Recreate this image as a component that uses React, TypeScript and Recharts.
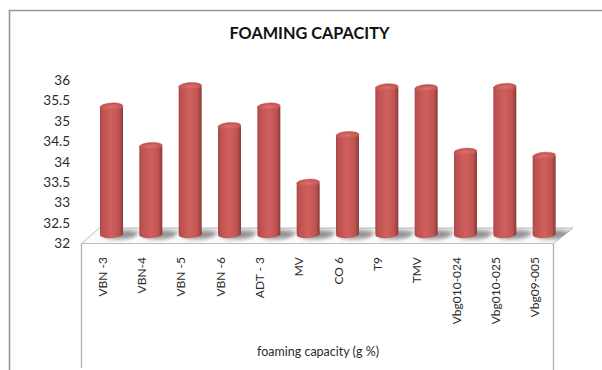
import { Bar, BarChart, Label, XAxis, YAxis } from "recharts";

const categories = ["VBN -3", "VBN-4", "VBN -5", "VBN -6", "ADT - 3", "MV", "CO 6", "T9", "TMV", "Vbg010-024", "Vbg010-025", "Vbg09-005"];
const capacity = [35.14, 34.17, 35.64, 34.66, 35.14, 33.27, 34.44, 35.61, 35.59, 34.03, 35.62, 33.93];
const yTicks = [32, 32.5, 33, 33.5, 34, 34.5, 35, 35.5, 36];

const rows = categories.map((name, i) => ({ name, capacity: capacity[i] }));
const font = "Lato, 'Open Sans', sans-serif";

// Cylinder column: shadow on the floor, body, base and lit cap
function Cylinder({ x, y, width, height }: any) {
  const cx = x + width / 2;
  const bottom = y + height;
  const rx = width / 2;
  return (
    <g>
      <g clipPath="url(#floorClip)">
        <ellipse cx={cx + 10} cy={bottom} rx={rx + 5} ry={4.5} fill="#7d7d7d" opacity={0.85} filter="url(#floorBlur)" transform={`skewX(-30) translate(${bottom * 0.577} 0)`} />
      </g>
      <ellipse cx={cx} cy={bottom} rx={rx} ry={3.6} fill="url(#cylBody)" transform={`rotate(-4 ${cx} ${bottom})`} />
      <rect x={x} y={y} width={width} height={height} fill="url(#cylBody)" />
      <ellipse cx={cx} cy={y} rx={rx} ry={3.6} fill="url(#cylCap)" stroke="#c9605c" strokeWidth={0.5} transform={`rotate(-4 ${cx} ${y})`} />
    </g>
  );
}

function CategoryTick({ x, payload }: any) {
  const lx = x - 9.5;
  const ly = 257;
  return (
    <text x={lx} y={ly} transform={`rotate(-90 ${lx} ${ly})`} textAnchor="end" dominantBaseline="central" fontSize={12} fontFamily={font} fill="#2b2b2b">
      {payload.value}
    </text>
  );
}

function ValueTick({ x, y, payload }: any) {
  return (
    <text x={x} y={y + 8.5} textAnchor="end" dominantBaseline="central" fontSize={13.5} fontFamily={font} fill="#2b2b2b">
      {payload.value}
    </text>
  );
}

export default function App() {
  return (
    <div style={{ position: "absolute", left: 0, top: 0, width: 602, height: 370, background: "#fff" }}>
      <BarChart
        width={602}
        height={370}
        data={rows}
        margin={{ top: 71.5, right: 38, bottom: 0, left: 0 }}
        barSize={23}
      >
        <defs>
          <linearGradient id="cylBody" x1="0" x2="1" y1="0" y2="0">
            <stop offset="0" stopColor="#a9474a" />
            <stop offset="0.12" stopColor="#bd5250" />
            <stop offset="0.5" stopColor="#d0605d" />
            <stop offset="0.82" stopColor="#bf5350" />
            <stop offset="1" stopColor="#8a3a38" />
          </linearGradient>
          <radialGradient id="cylCap" cx="0.5" cy="0.55" r="0.55">
            <stop offset="0" stopColor="#e0706c" />
            <stop offset="0.7" stopColor="#c95a57" />
            <stop offset="1" stopColor="#b34d4a" />
          </radialGradient>
          <filter id="floorBlur" x="-30%" y="-60%" width="160%" height="220%">
            <feGaussianBlur stdDeviation="2.2" />
          </filter>
          <clipPath id="floorClip">
            <polygon points="81.5,243.5 553.5,243.5 573,228 99.5,228" />
          </clipPath>
        </defs>

        {/* outer frame, cut off at the top right */}
        <path d="M9.5 370V10.5H602" fill="none" stroke="#969696" strokeWidth={1.6} />
        {/* category table below the floor */}
        <path d="M81.5 368V243.5M553.5 372V243.5" fill="none" stroke="#b4b4b4" strokeWidth={1.4} />
        {/* floor */}
        <polygon points="81.5,243.5 553.5,243.5 573,228 99.5,228" fill="#fbfbfb" stroke="#bcbcbc" strokeWidth={1} />

        <text x={309.5} y={38.5} textAnchor="middle" fontSize={16.3} fontWeight={700} fontFamily={font} fill="#111">
          FOAMING CAPACITY
        </text>

        <XAxis dataKey="name" height={135.5} axisLine={false} tickLine={false} interval={0} tick={<CategoryTick />}>
          <Label content={() => (
            <text x={318} y={356} textAnchor="middle" fontSize={12.5} fontFamily={font} fill="#2b2b2b">
              foaming capacity (g %)
            </text>
          )} />
        </XAxis>
        <YAxis width={92} domain={[32, 36]} ticks={yTicks} axisLine={false} tickLine={false} tickMargin={16} interval={0} tick={<ValueTick />} />
        <Bar dataKey="capacity" shape={<Cylinder />} isAnimationActive={false} />
      </BarChart>
    </div>
  );
}
